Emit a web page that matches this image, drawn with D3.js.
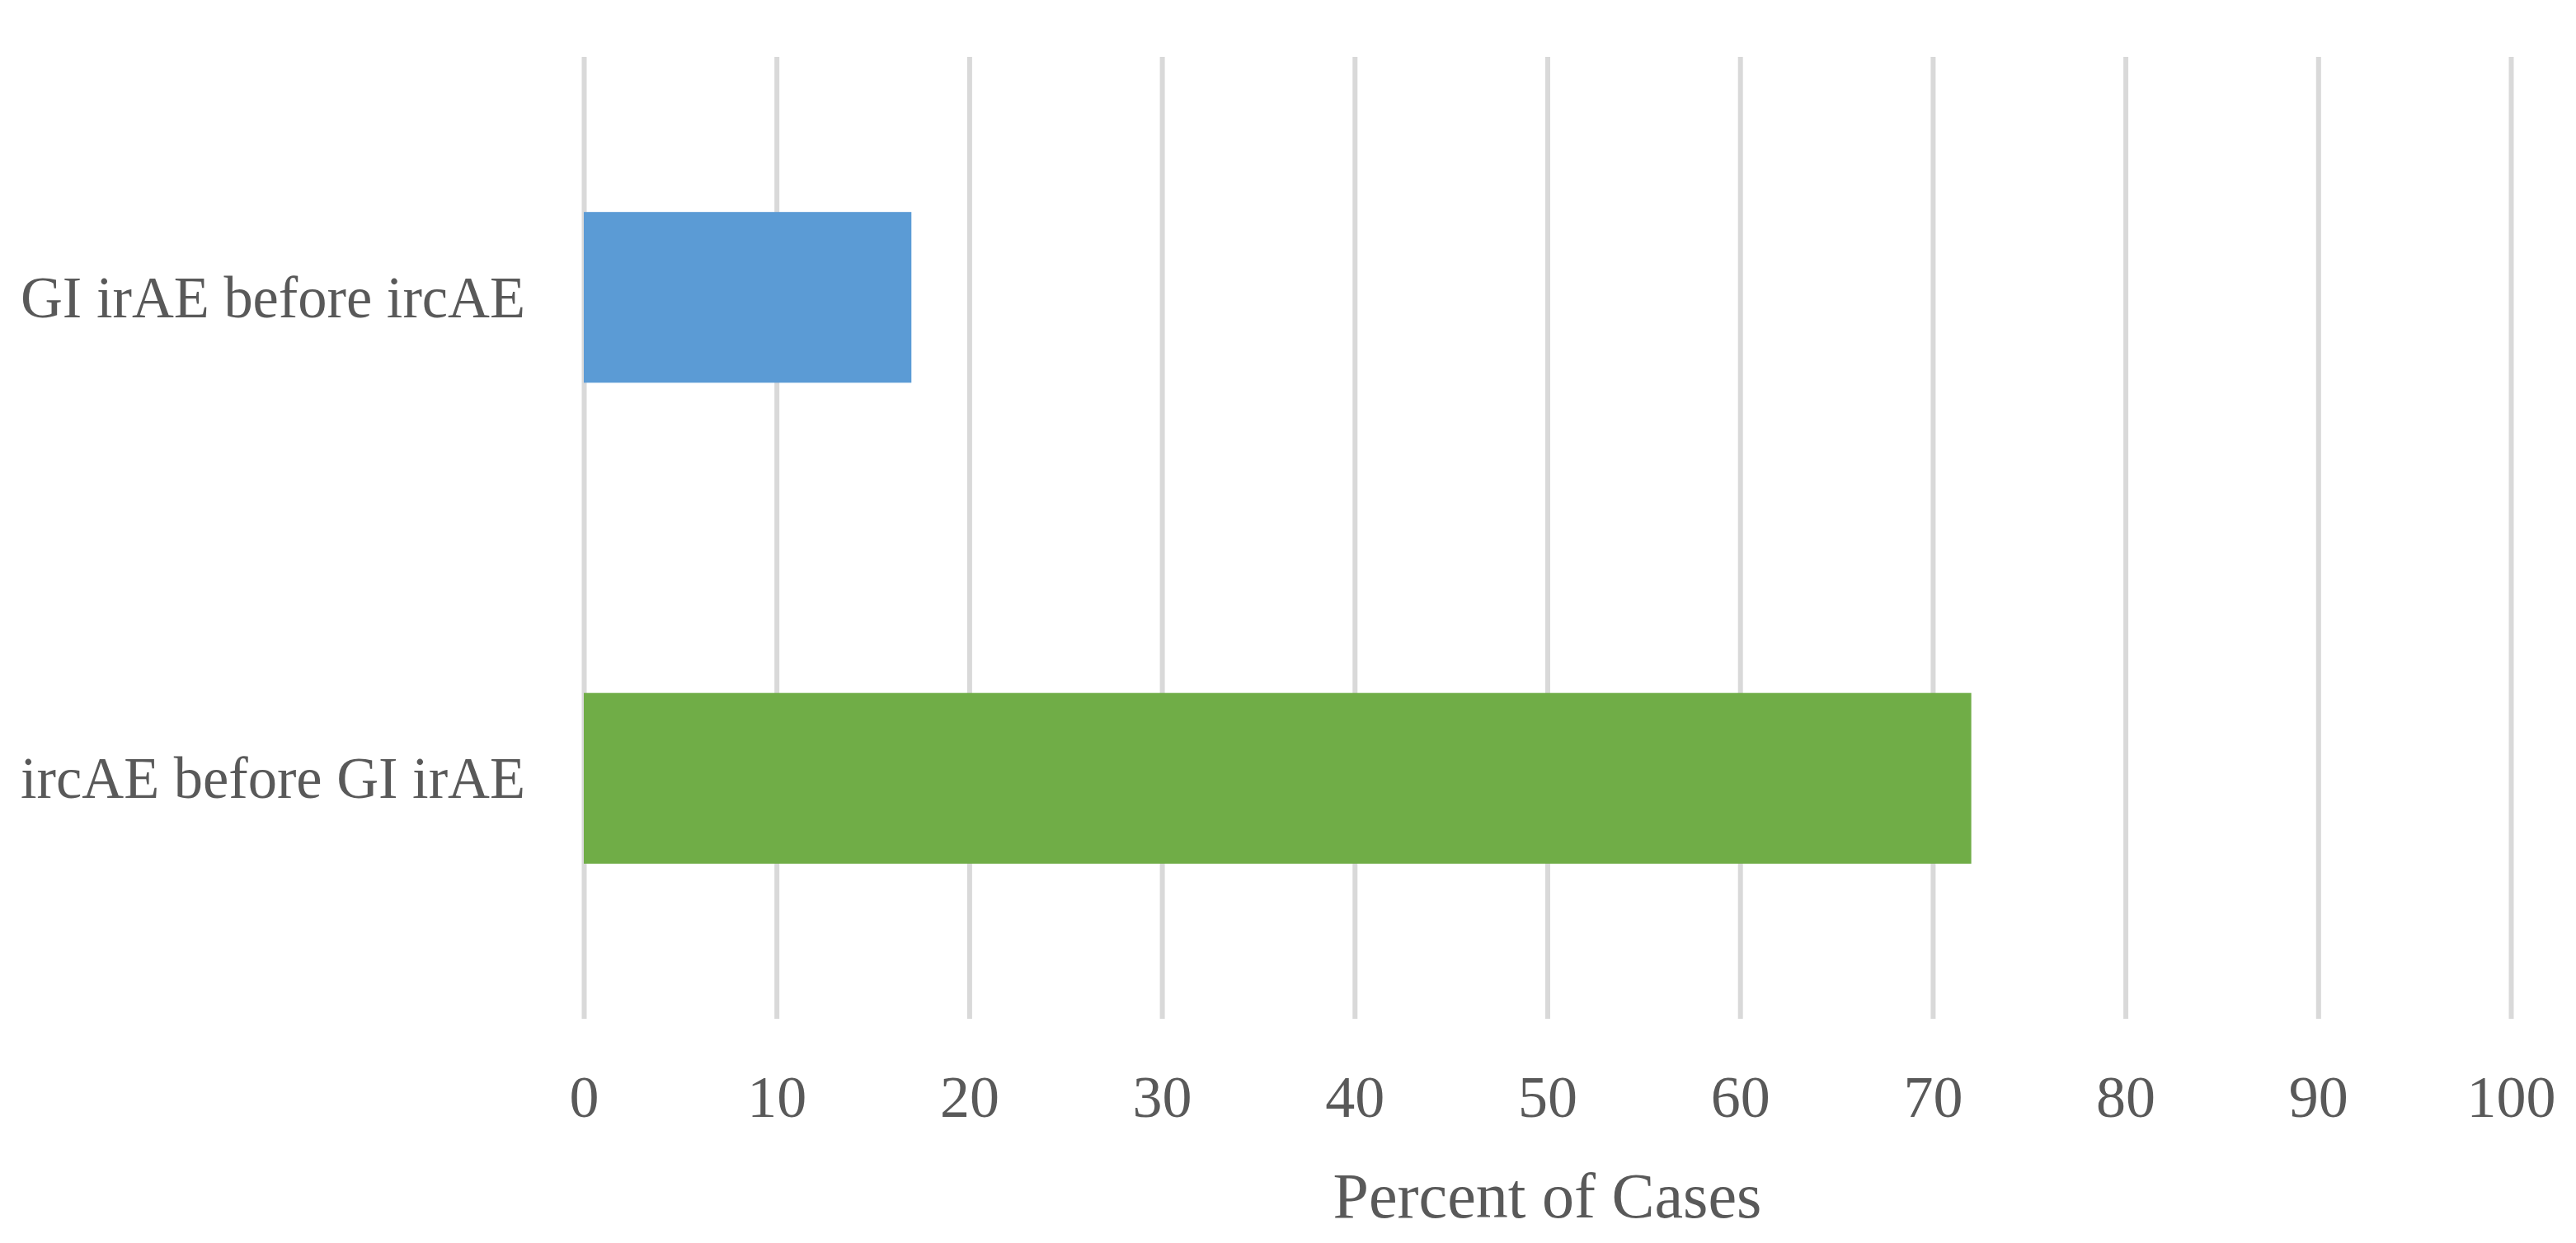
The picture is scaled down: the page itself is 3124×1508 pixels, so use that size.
<!DOCTYPE html>
<html>
<head>
<meta charset="utf-8">
<script src="https://cdn.jsdelivr.net/npm/d3@7"></script>
<style>
  html, body { margin: 0; padding: 0; background: #ffffff; }
  svg { display: block; }
</style>
</head>
<body>
<svg id="chart" width="3124" height="1508"></svg>
<script>
const categories = ["GI irAE before ircAE", "ircAE before GI irAE"];
const values = [17, 72];
const barColors = ["#5B9BD5", "#70AD47"];
const tickValues = [0, 10, 20, 30, 40, 50, 60, 70, 80, 90, 100];
const axisTitle = "Percent of Cases";

const W = 3124, H = 1508;
const margin = { left: 708, right: 3124 - 3045, top: 69, bottom: 1508 - 1236 };
const fontFamily = "'Liberation Serif', 'DejaVu Serif', serif";
const textColor = "#595959";

const svg = d3.select("#chart");

const x = d3.scaleLinear().domain([0, 100]).range([margin.left, W - margin.right]);
const y = d3.scaleBand().domain(categories).range([margin.top, H - margin.bottom])
  .paddingInner(0.645).paddingOuter(0.3225);

// gridlines
const xAxisGrid = d3.axisBottom(x).tickValues(tickValues)
  .tickSize(-(H - margin.bottom - margin.top)).tickFormat("");
const grid = svg.append("g")
  .attr("transform", `translate(0,${H - margin.bottom})`)
  .call(xAxisGrid);
grid.select(".domain").remove();
grid.selectAll("line").attr("stroke", "#d9d9d9").attr("stroke-width", 6);

// bars
svg.append("g").selectAll("rect")
  .data(categories)
  .join("rect")
  .attr("x", x(0))
  .attr("y", d => y(d))
  .attr("width", (d, i) => x(values[i]) - x(0))
  .attr("height", y.bandwidth())
  .attr("fill", (d, i) => barColors[i]);

// x tick labels
const xAxis = d3.axisBottom(x).tickValues(tickValues).tickSize(0).tickPadding(0)
  .tickFormat(d3.format("d"));
const xg = svg.append("g")
  .attr("transform", `translate(0,1355)`)
  .call(xAxis);
xg.select(".domain").remove();
xg.selectAll("text")
  .attr("dy", 0)
  .attr("font-family", fontFamily)
  .attr("font-size", 72)
  .attr("fill", textColor);

// y category labels
const yAxis = d3.axisLeft(y).tickSize(0).tickPadding(0);
const yg = svg.append("g")
  .attr("transform", `translate(637,0)`)
  .call(yAxis);
yg.select(".domain").remove();
yg.selectAll("text")
  .attr("dy", "0.33em")
  .attr("font-family", fontFamily)
  .attr("font-size", 72)
  .attr("fill", textColor)
  .attr("textLength", 612)
  .attr("lengthAdjust", "spacingAndGlyphs");

// axis title
svg.append("text")
  .attr("x", (x(0) + x(100)) / 2)
  .attr("y", 1477)
  .attr("text-anchor", "middle")
  .attr("font-family", fontFamily)
  .attr("font-size", 78)
  .attr("fill", textColor)
  .text(axisTitle);
</script>
</body>
</html>
